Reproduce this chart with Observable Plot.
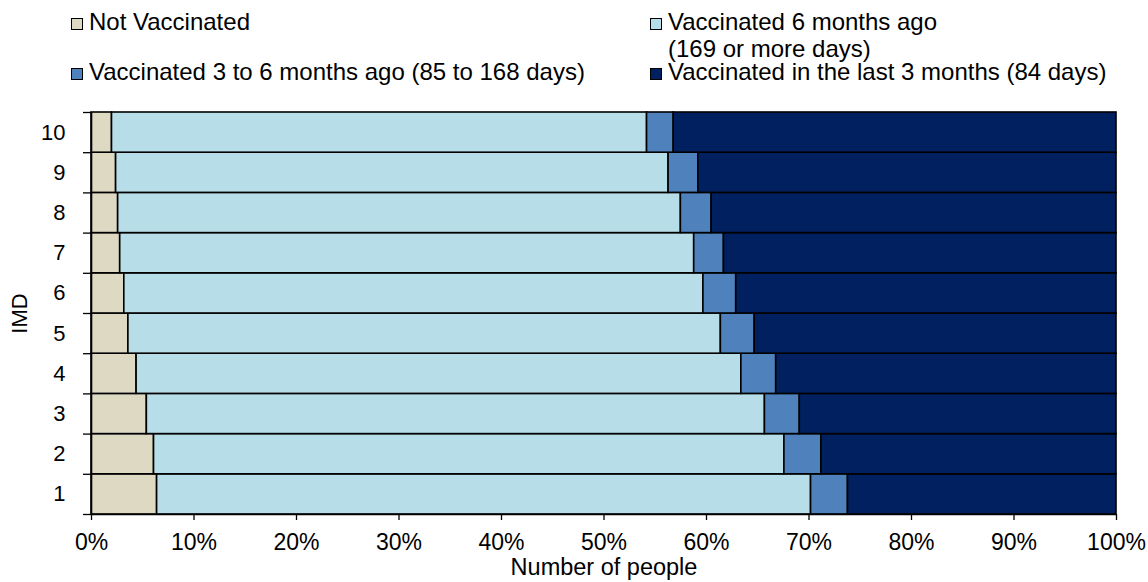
<!DOCTYPE html>
<html>
<head>
<meta charset="utf-8">
<script src="https://cdn.jsdelivr.net/npm/d3@7"></script>
<script src="https://cdn.jsdelivr.net/npm/@observablehq/plot@0.6"></script>
<style>
  html, body { margin: 0; padding: 0; background: #fff; }
  body { width: 1148px; height: 582px; overflow: hidden; font-family: "Liberation Sans", Arial, sans-serif; }
  #legend { position: relative; width: 1148px; height: 100px; font-size: 24px; color: #000; }
  #legend .t { position: absolute; line-height: 24px; white-space: nowrap; }
  #legend .sw { position: absolute; width: 10px; height: 10px; border: 1.5px solid #000; }
  #chart svg { display: block; }
</style>
</head>
<body>
<div id="legend"></div>
<div id="chart"></div>
<script>
// Categories (IMD deciles, bottom to top)
const imd = ["1", "2", "3", "4", "5", "6", "7", "8", "9", "10"];

// Series names
const series = [
  "Not Vaccinated",
  "Vaccinated 6 months ago (169 or more days)",
  "Vaccinated 3 to 6 months ago (85 to 168 days)",
  "Vaccinated in the last 3 months (84 days)"
];
const colors = ["#DDD9C3", "#B7DDE8", "#4F81BD", "#002060"];

// Series values (percent of people), in IMD order 1..10
const notVaccinated = [6.4, 6.1, 5.4, 4.4, 3.6, 3.2, 2.8, 2.6, 2.4, 2.0];
const vacc6mPlus    = [63.8, 61.5, 60.3, 59.0, 57.8, 56.5, 56.0, 54.9, 53.9, 52.2];
const vacc3to6m     = [3.6, 3.6, 3.4, 3.4, 3.3, 3.2, 2.9, 3.0, 2.9, 2.6];
const vaccLast3m    = [26.2, 28.8, 30.9, 33.2, 35.3, 37.1, 38.3, 39.5, 40.8, 43.2];

// X tick labels
const xTicks = [0, 10, 20, 30, 40, 50, 60, 70, 80, 90, 100];

// Build stacked table
const seriesValues = [notVaccinated, vacc6mPlus, vacc3to6m, vaccLast3m];
const rows = [];
imd.forEach((cat, i) => {
  let acc = 0;
  seriesValues.forEach((vals, s) => {
    rows.push({imd: cat, lo: i, hi: i + 1, series: series[s], x1: acc, x2: acc + vals[i]});
    acc += vals[i];
  });
});

// Legend (HTML, above the SVG)
const legend = document.getElementById("legend");
const legendItems = [
  {s: 0, sx: 71, sy: 18, tx: 89, lines: [["Not Vaccinated", 10]]},
  {s: 1, sx: 650, sy: 18, tx: 668, lines: [["Vaccinated 6 months ago", 10], ["(169 or more days)", 37]]},
  {s: 2, sx: 71, sy: 68, tx: 89, lines: [["Vaccinated 3 to 6 months ago (85 to 168 days)", 60]]},
  {s: 3, sx: 650, sy: 68, tx: 668, lines: [["Vaccinated in the last 3 months (84 days)", 60]]}
];
legendItems.forEach(it => {
  const sw = document.createElement("div");
  sw.className = "sw";
  sw.style.left = it.sx + "px";
  sw.style.top = it.sy + "px";
  sw.style.background = colors[it.s];
  legend.appendChild(sw);
  it.lines.forEach(([txt, top]) => {
    const t = document.createElement("div");
    t.className = "t";
    t.style.left = it.tx + "px";
    t.style.top = top + "px";
    t.textContent = txt;
    legend.appendChild(t);
  });
});

const chart = Plot.plot({
  width: 1148,
  height: 482,
  marginTop: 12,
  marginBottom: 68,
  marginLeft: 91,
  marginRight: 32,
  style: {fontFamily: "Liberation Sans, Arial, sans-serif", fontSize: "23px", color: "#000", background: "#fff", overflow: "visible"},
  x: {domain: [0, 100]},
  y: {domain: [0, imd.length]},
  color: {domain: series, range: colors},
  marks: [
    Plot.rectX(rows, {x1: "x1", x2: "x2", y1: "lo", y2: "hi", fill: "series", stroke: "#000", strokeWidth: 1.6}),
    Plot.ruleX([0], {stroke: "#000", strokeWidth: 1.6}),
    Plot.ruleY([0], {stroke: "#000", strokeWidth: 1.6}),
    Plot.axisX({ticks: xTicks, tickSize: 6, tickPadding: 13, tickFormat: d => d + "%", label: null, stroke: "#000", strokeWidth: 1.3}),
    Plot.text(["Number of people"], {text: d => d, frameAnchor: "bottom", dy: 53, lineAnchor: "middle", fontSize: 23.5, fill: "#000"}),
    Plot.axisY({ticks: d3.range(0, imd.length + 1), tickSize: 8, tickFormat: () => "", label: null, stroke: "#000", strokeWidth: 1.3}),
    Plot.axisY({ticks: imd.map((d, i) => i + 0.5), tickSize: 0, tickPadding: 26, fontSize: 22, tickFormat: (d) => imd[Math.floor(d)],
      label: "IMD", labelAnchor: "center", labelArrow: "none", labelOffset: 80})
  ]
});
document.getElementById("chart").appendChild(chart);
</script>
</body>
</html>
